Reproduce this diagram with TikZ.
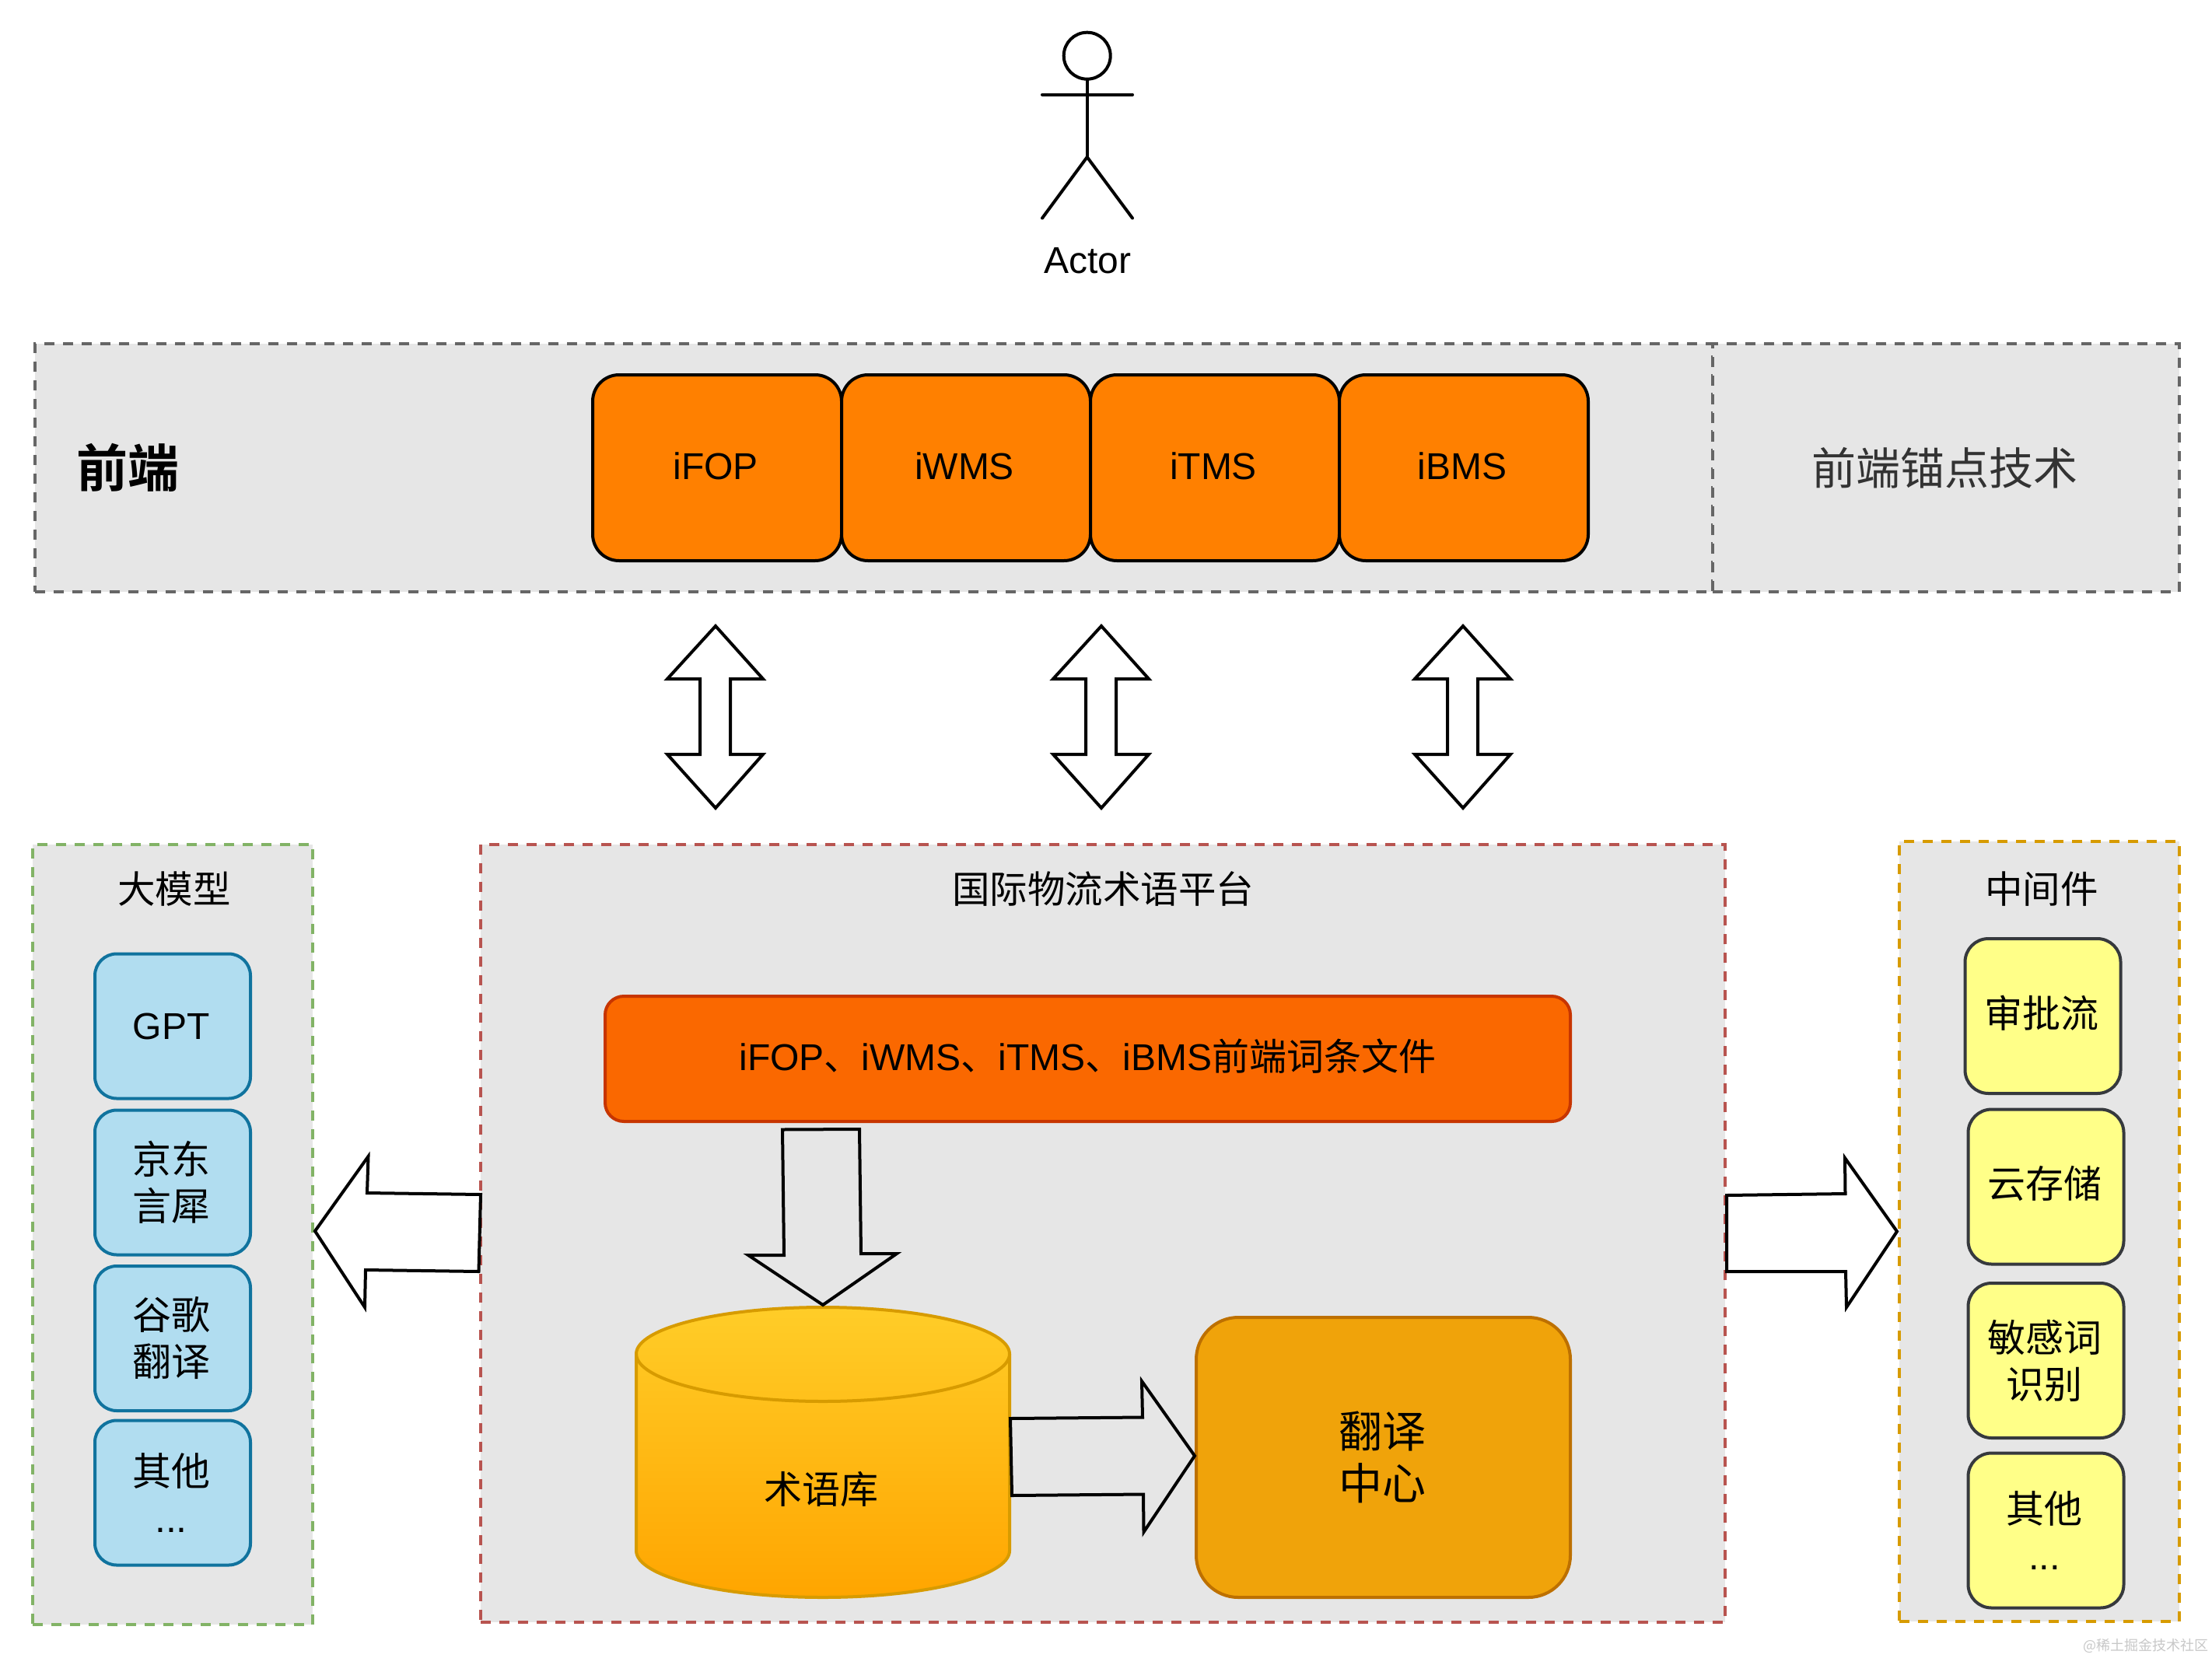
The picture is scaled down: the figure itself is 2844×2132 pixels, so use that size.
\documentclass[tikz,border=0pt]{standalone}
\usepackage{fontspec}
\setmainfont{Liberation Sans}
\newfontfamily\cjk{Noto Sans CJK SC}
\newfontfamily\cjkbold{Noto Sans CJK SC Bold}
\newcommand\fsz[2]{\fontsize{#1}{#2}\selectfont}
\newcommand\lft[1]{#1\hspace*{4pt}}
\definecolor{panelfill}{HTML}{E6E6E6}
\definecolor{pgray}{HTML}{666666}
\definecolor{pgreen}{HTML}{82B366}
\definecolor{pred}{HTML}{B85450}
\definecolor{pamber}{HTML}{D79B00}
\definecolor{feorange}{HTML}{FF8000}
\definecolor{barfill}{HTML}{FA6800}
\definecolor{barline}{HTML}{C73500}
\definecolor{blfill}{HTML}{B1DDF0}
\definecolor{blline}{HTML}{10739E}
\definecolor{yefill}{HTML}{FFFF88}
\definecolor{yeline}{HTML}{36393D}
\definecolor{cenfill}{HTML}{F0A30A}
\definecolor{cenline}{HTML}{BD7000}
\definecolor{cyltop}{HTML}{FFCD28}
\definecolor{cylbot}{HTML}{FFA500}
\definecolor{softtext}{HTML}{333333}
\definecolor{marktext}{HTML}{C8C8C8}
\tikzset{
  x=1pt,y=-1pt,
  panelbox/.style={rectangle,draw=#1,fill=panelfill,line width=4.5pt,dash pattern=on 13pt off 11pt,inner sep=0pt,outer sep=0pt},
  febox/.style={rectangle,rounded corners=34pt,draw=black,fill=feorange,line width=4pt,minimum width=320pt,minimum height=239pt,inner sep=0pt,text depth=5pt,font=\fsz{48}{60}},
  bluebox/.style={rectangle,rounded corners=28pt,draw=blline,fill=blfill,line width=4pt,minimum width=200pt,minimum height=186pt,inner sep=0pt,align=center,font=\cjk\fsz{50}{60}},
  yellowbox/.style={rectangle,rounded corners=30pt,draw=yeline,fill=yefill,line width=4pt,minimum width=200pt,minimum height=199pt,inner sep=0pt,align=center,font=\cjk\fsz{49}{60}},
  blockarrow/.style={draw=black,fill=none,line width=4pt,line join=miter},
  paneltitle/.style={inner sep=0pt,font=\cjk\fsz{48.5}{60}},
  actorline/.style={draw=black,line width=4pt,line cap=round}
}
\begin{document}
\begin{tikzpicture}
\useasboundingbox (0,0) rectangle (2844,2132);
\fill[white] (0,0) rectangle (2844,2132);

% Actor
\node[circle,draw=black,line width=4pt,minimum size=60pt,inner sep=0pt] (head) at (1397.7,71.7) {};
\coordinate (armL) at (1340,121.7);
\coordinate (armR) at (1456,121.7);
\coordinate (hip) at (1397.7,202);
\coordinate (footL) at (1340,280.5);
\coordinate (footR) at (1456,280.5);
\draw[actorline] (head.south) -- (hip);
\draw[actorline] (armL) -- (armR);
\draw[actorline] (footL) -- (hip) -- (footR);
\node[inner sep=0pt,font=\fsz{48}{60}] (actorlabel) at (1398,335) {Actor};

% Front-end band
\node[panelbox=pgray,minimum width=2157pt,minimum height=319pt] (feband) at (1123.5,601.5) {};
\node[panelbox=pgray,minimum width=600pt,minimum height=319pt,text=softtext,font=\cjk\fsz{57}{66}] (anchorband) at (2502,601.5) {前端锚点技术\hspace*{4pt}};
\node[inner sep=0pt,font=\cjkbold\fsz{66}{70}] (felabel) at (164,601) {前端};
\node[febox] (ifop) at (922,601.5) {\lft{iFOP}};
\node[febox] (iwms) at (1242,601.5) {\lft{iWMS}};
\node[febox] (itms) at (1562,601.5) {\lft{iTMS}};
\node[febox] (ibms) at (1882,601.5) {\lft{iBMS}};

% Double arrows
\draw[blockarrow] (920,805) -- (981,873) -- (939,873) -- (939,970) -- (981,970) -- (920,1039) -- (858,970) -- (900,970) -- (900,873) -- (858,873) -- cycle;
\draw[blockarrow] (1416,805) -- (1477,873) -- (1435,873) -- (1435,970) -- (1477,970) -- (1416,1039) -- (1354,970) -- (1396,970) -- (1396,873) -- (1354,873) -- cycle;
\draw[blockarrow] (1881,805) -- (1942,873) -- (1900,873) -- (1900,970) -- (1942,970) -- (1881,1039) -- (1819,970) -- (1861,970) -- (1861,873) -- (1819,873) -- cycle;

% Large model panel
\node[panelbox=pgreen,minimum width=360pt,minimum height=1003pt] (modelpanel) at (222,1587.5) {};
\node[paneltitle] (modeltitle) at (224,1143) {大模型};
\node[bluebox] (gpt) at (222,1319.5) {\fontspec{Liberation Sans}\fsz{48}{60}\lft{GPT}};
\node[bluebox] (jd) at (222,1520.5) {\lft{京东}\\\lft{言犀}};
\node[bluebox] (gg) at (222,1721) {\lft{谷歌}\\\lft{翻译}};
\node[bluebox] (mother) at (222,1919.5) {\lft{其他}\\\lft{\fontspec{Liberation Sans}...}};

% Platform panel
\node[panelbox=pred,minimum width=1600pt,minimum height=1000pt] (platform) at (1418,1586) {};
\node[paneltitle] (platformtitle) at (1418,1143) {国际物流术语平台};
\node[rectangle,rounded corners=24pt,draw=barline,fill=barfill,line width=4pt,minimum width=1241pt,minimum height=161pt,inner sep=0pt,text depth=10pt,font=\fsz{48}{60}] (bar) at (1398.5,1361.5) {iFOP{\cjk 、}iWMS{\cjk 、}iTMS{\cjk 、}iBMS{\cjk 前端词条文件}};

% Cylinder
\path[top color=cyltop,bottom color=cylbot] (818,1741) .. controls (818,1708) and (925,1681) .. (1058,1681) .. controls (1191,1681) and (1298,1708) .. (1298,1741) -- (1298,1994) .. controls (1298,2027) and (1191,2054) .. (1058,2054) .. controls (925,2054) and (818,2027) .. (818,1994) -- cycle;
\draw[draw=pamber,line width=4pt] (818,1741) .. controls (818,1708) and (925,1681) .. (1058,1681) .. controls (1191,1681) and (1298,1708) .. (1298,1741) -- (1298,1994) .. controls (1298,2027) and (1191,2054) .. (1058,2054) .. controls (925,2054) and (818,2027) .. (818,1994) -- cycle;
\draw[draw=pamber,line width=4pt] (818,1741) .. controls (818,1774) and (925,1802) .. (1058,1802) .. controls (1191,1802) and (1298,1774) .. (1298,1741);
\node[inner sep=0pt,font=\cjk\fsz{49}{60}] (termdb) at (1056,1915) {术语库};

% Translation centre
\node[rectangle,rounded corners=54pt,draw=cenline,fill=cenfill,line width=4pt,minimum width=481pt,minimum height=360pt,inner sep=0pt,align=center,font=\cjk\fsz{56}{67}] (transcenter) at (1778.5,1874) {翻译\hspace*{2pt}\\中心\hspace*{2pt}};

% Platform arrows
\draw[blockarrow] (1006,1452.5) -- (1105,1452) -- (1107,1612) -- (1153,1612) -- (1058,1678) -- (962,1614) -- (1008,1614) -- cycle;
\draw[blockarrow] (1299,1824) -- (1469,1822.5) -- (1468,1776) -- (1536,1872) -- (1470.5,1970) -- (1470,1921.5) -- (1301,1923) -- cycle;

% Middleware panel
\node[panelbox=pamber,minimum width=360pt,minimum height=1003pt] (midpanel) at (2622,1583.5) {};
\node[paneltitle] (midtitle) at (2625,1143) {中间件};
\node[yellowbox,text depth=12pt] (approve) at (2626.5,1306.5) {\lft{审批流}};
\node[yellowbox,text depth=12pt] (storage) at (2630.5,1526) {\lft{云存储}};
\node[yellowbox] (sensitive) at (2630.5,1749.5) {\lft{敏感词}\\\lft{识别}};
\node[yellowbox] (yother) at (2630.5,1968) {\lft{其他}\\\lft{\fontspec{Liberation Sans}...}};

% Side arrows
\draw[blockarrow] (618,1536) -- (472,1534) -- (473.5,1487) -- (405,1583) -- (469,1681) -- (470,1633) -- (615.5,1635) -- cycle;
\draw[blockarrow] (2220,1537) -- (2372.5,1535) -- (2372,1489) -- (2439,1583.5) -- (2374,1681) -- (2373,1635) -- (2220,1635) -- cycle;

% Watermark
\node[inner sep=0pt,text=marktext,font=\cjk\fsz{18}{24}] (watermark) at (2759,2116) {@稀土掘金技术社区};
\end{tikzpicture}
\end{document}
